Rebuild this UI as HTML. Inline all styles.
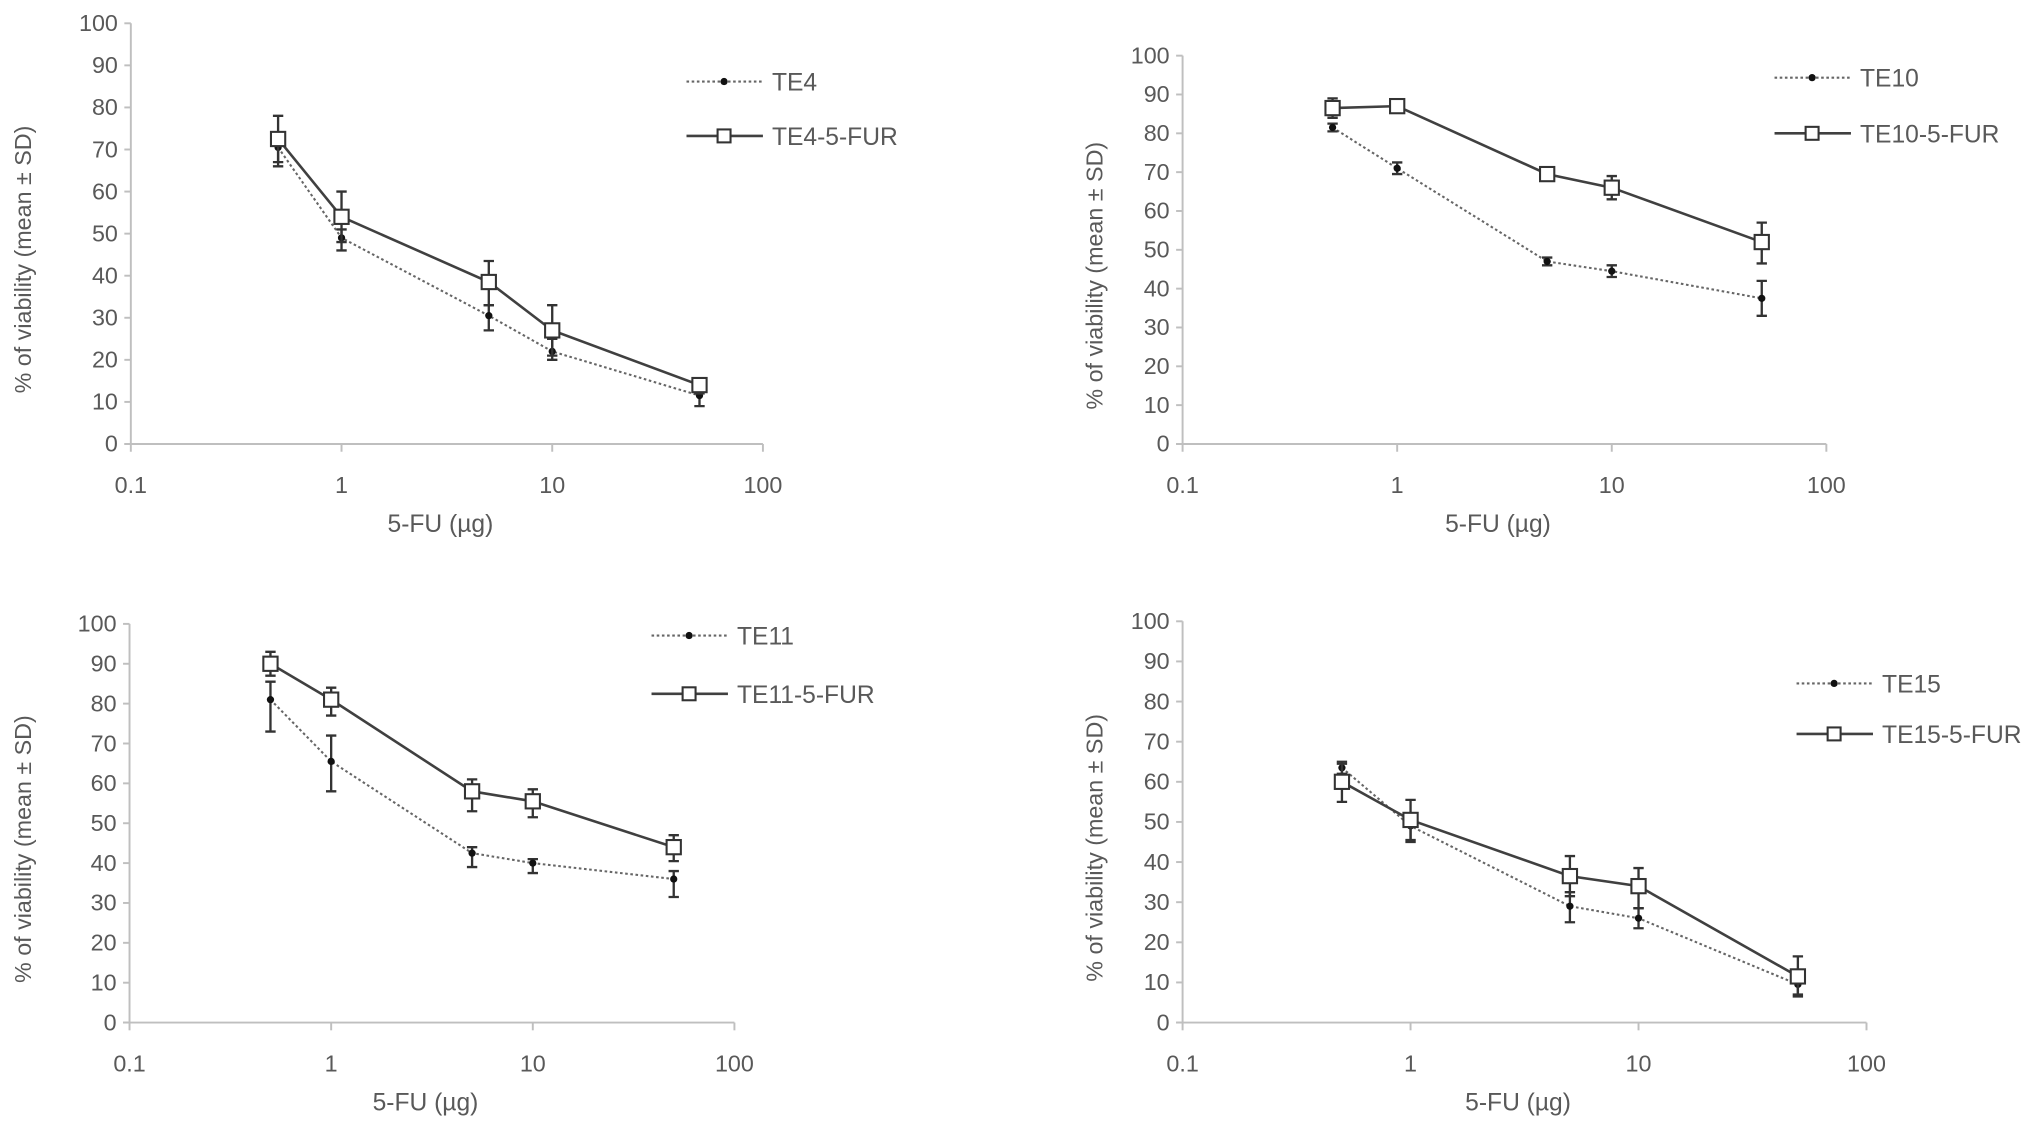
<!DOCTYPE html>
<html><head><meta charset="utf-8"><style>
html,body{margin:0;padding:0;background:#fff;}
svg{display:block;}
text{font-family:"Liberation Sans Narrow","Liberation Sans",sans-serif;fill:#595959;}
</style></head><body>
<svg id="fig" width="2031" height="1130" viewBox="0 0 1568 873" preserveAspectRatio="none" xmlns="http://www.w3.org/2000/svg"></svg>
<script>
const doses = [0.5, 1, 5, 10, 50];
const xTickLabels = ["0.1", "1", "10", "100"];
const yTickLabels = [0,10,20,30,40,50,60,70,80,90,100];
const te4 = [70.5, 49, 30.5, 22, 11.5];
const te4Lo = [67, 46, 27, 20, 9];
const te4Hi = [73, 51, 33, 25, 13];
const te4fur = [72.5, 54, 38.5, 27, 14];
const te4furLo = [66, 48, 33, 21, 12];
const te4furHi = [78, 60, 43.5, 33, 15.5];
const te10 = [81.5, 71, 47, 44.5, 37.5];
const te10Lo = [80.5, 69.5, 46, 43, 33];
const te10Hi = [82.5, 72.5, 48, 46, 42];
const te10fur = [86.5, 87, 69.5, 66, 52];
const te10furLo = [84, 86, 68, 63, 46.5];
const te10furHi = [89, 88, 71, 69, 57];
const te11 = [81, 65.5, 42.5, 40, 36];
const te11Lo = [73, 58, 39, 37.5, 31.5];
const te11Hi = [85.5, 72, 44, 41, 38];
const te11fur = [90, 81, 58, 55.5, 44];
const te11furLo = [87, 77, 53, 51.5, 40.5];
const te11furHi = [93, 84, 61, 58.5, 47];
const te15 = [63.5, 49, 29, 26, 9.5];
const te15Lo = [62, 45, 25, 23.5, 6.5];
const te15Hi = [65, 51.5, 32.5, 28.5, 12];
const te15fur = [60, 50.5, 36.5, 34, 11.5];
const te15furLo = [55, 45.5, 31.5, 28.5, 7];
const te15furHi = [64.5, 55.5, 41.5, 38.5, 16.5];

const NS="http://www.w3.org/2000/svg";
const svg=document.getElementById('fig');
function el(tag,attrs,parent){const e=document.createElementNS(NS,tag);for(const k in attrs)e.setAttribute(k,attrs[k]);(parent||svg).appendChild(e);return e;}

const panels=[
 {id:'te4',x0:101,x1:589,yTop:18,yBot:343,ytx:18,legX:530,leg1:63,leg2:105,names:['TE4','TE4-5-FUR'],a:te4,aLo:te4Lo,aHi:te4Hi,b:te4fur,bLo:te4furLo,bHi:te4furHi},
 {id:'te10',x0:913,x1:1410,yTop:43,yBot:343,ytx:845,legX:1370,leg1:60,leg2:103,names:['TE10','TE10-5-FUR'],a:te10,aLo:te10Lo,aHi:te10Hi,b:te10fur,bLo:te10furLo,bHi:te10furHi},
 {id:'te11',x0:100,x1:567,yTop:482,yBot:790,ytx:18,legX:503,leg1:491,leg2:536,names:['TE11','TE11-5-FUR'],a:te11,aLo:te11Lo,aHi:te11Hi,b:te11fur,bLo:te11furLo,bHi:te11furHi},
 {id:'te15',x0:913,x1:1441,yTop:480,yBot:790,ytx:845,legX:1387,leg1:528,leg2:567,names:['TE15','TE15-5-FUR'],a:te15,aLo:te15Lo,aHi:te15Hi,b:te15fur,bLo:te15furLo,bHi:te15furHi}
];

panels.forEach(p=>{
 const g=el('g',{});
 
 
 const xs=v=>p.x0+(Math.log10(v)+1)/3*(p.x1-p.x0);
 const ys=v=>p.yBot-v/100*(p.yBot-p.yTop);
 const ax=el('g',{stroke:'#bfbfbf','stroke-width':1.5},g);
 
 
 el('line',{x1:p.x0,y1:p.yTop,x2:p.x0,y2:p.yBot},ax);
 el('line',{x1:p.x0-5,y1:p.yBot,x2:p.x1,y2:p.yBot},ax);
 yTickLabels.forEach(v=>{
  el('line',{x1:p.x0-5,y1:ys(v),x2:p.x0,y2:ys(v)},ax);
  const t=el('text',{x:p.x0-10,y:ys(v)+6,'text-anchor':'end','font-size':18},g);
  t.textContent=v;
  
  
 });
 xTickLabels.forEach(s=>{
  const x=xs(parseFloat(s));
  el('line',{x1:x,y1:p.yBot,x2:x,y2:p.yBot+6},ax);
  const t=el('text',{x:x,y:p.yBot+38,'text-anchor':'middle','font-size':18},g);
  t.textContent=s;
  
  
 });
 const xt=el('text',{x:(p.x0+p.x1)/2-5,y:p.yBot+68,'text-anchor':'middle','font-size':19},g);
 xt.textContent='5-FU (µg)';
 
 
 const yc=(p.yTop+p.yBot)/2+20;
 const yt=el('text',{x:p.ytx,y:yc,'text-anchor':'middle','font-size':18,transform:`rotate(-90 ${p.ytx} ${yc})`,dy:6,style:'font-family:"Liberation Sans",sans-serif'},g);
 yt.textContent='% of viability (mean ± SD)';
 
 
 // series
 function series(vals,lo,hi,dotted,name){
  const sg=el('g',{},g);
  
  
  const pts=doses.map((d,i)=>xs(d)+','+ys(vals[i])).join(' ');
  el('polyline',{points:pts,fill:'none',stroke:dotted?'#666':'#404040','stroke-width':dotted?1.6:2,'stroke-dasharray':dotted?'2 2':'none'},sg);
  doses.forEach((d,i)=>{
   const x=xs(d);
   const e=el('path',{d:`M${x} ${ys(lo[i])}V${ys(hi[i])}M${x-4} ${ys(lo[i])}H${x+4}M${x-4} ${ys(hi[i])}H${x+4}`,stroke:'#333','stroke-width':1.8,fill:'none'},sg);
   
   
   let m;
   if(dotted) m=el('circle',{cx:x,cy:ys(vals[i]),r:2.8,fill:'#111'},sg);
   else m=el('rect',{x:x-5.5,y:ys(vals[i])-5.5,width:11,height:11,fill:'#fff',stroke:'#333','stroke-width':1.6},sg);
   
   
  });
 }
 series(p.a,p.aLo,p.aHi,true,p.names[0]);
 series(p.b,p.bLo,p.bHi,false,p.names[1]);
 // legend
 const lg=el('g',{},g);
 
 
 el('line',{x1:p.legX,y1:p.leg1,x2:p.legX+59,y2:p.leg1,stroke:'#666','stroke-width':1.6,'stroke-dasharray':'2 2'},lg);
 el('circle',{cx:p.legX+29,cy:p.leg1,r:2.8,fill:'#111'},lg);
 const l1=el('text',{x:p.legX+66,y:p.leg1+7,'font-size':19},lg);
 l1.textContent=p.names[0];
 
 
 el('line',{x1:p.legX,y1:p.leg2,x2:p.legX+59,y2:p.leg2,stroke:'#404040','stroke-width':2},lg);
 el('rect',{x:p.legX+24,y:p.leg2-5,width:10,height:10,fill:'#fff',stroke:'#333','stroke-width':1.6},lg);
 const l2=el('text',{x:p.legX+66,y:p.leg2+7,'font-size':19},lg);
 l2.textContent=p.names[1];
 
 
});
</script>
</body></html>
